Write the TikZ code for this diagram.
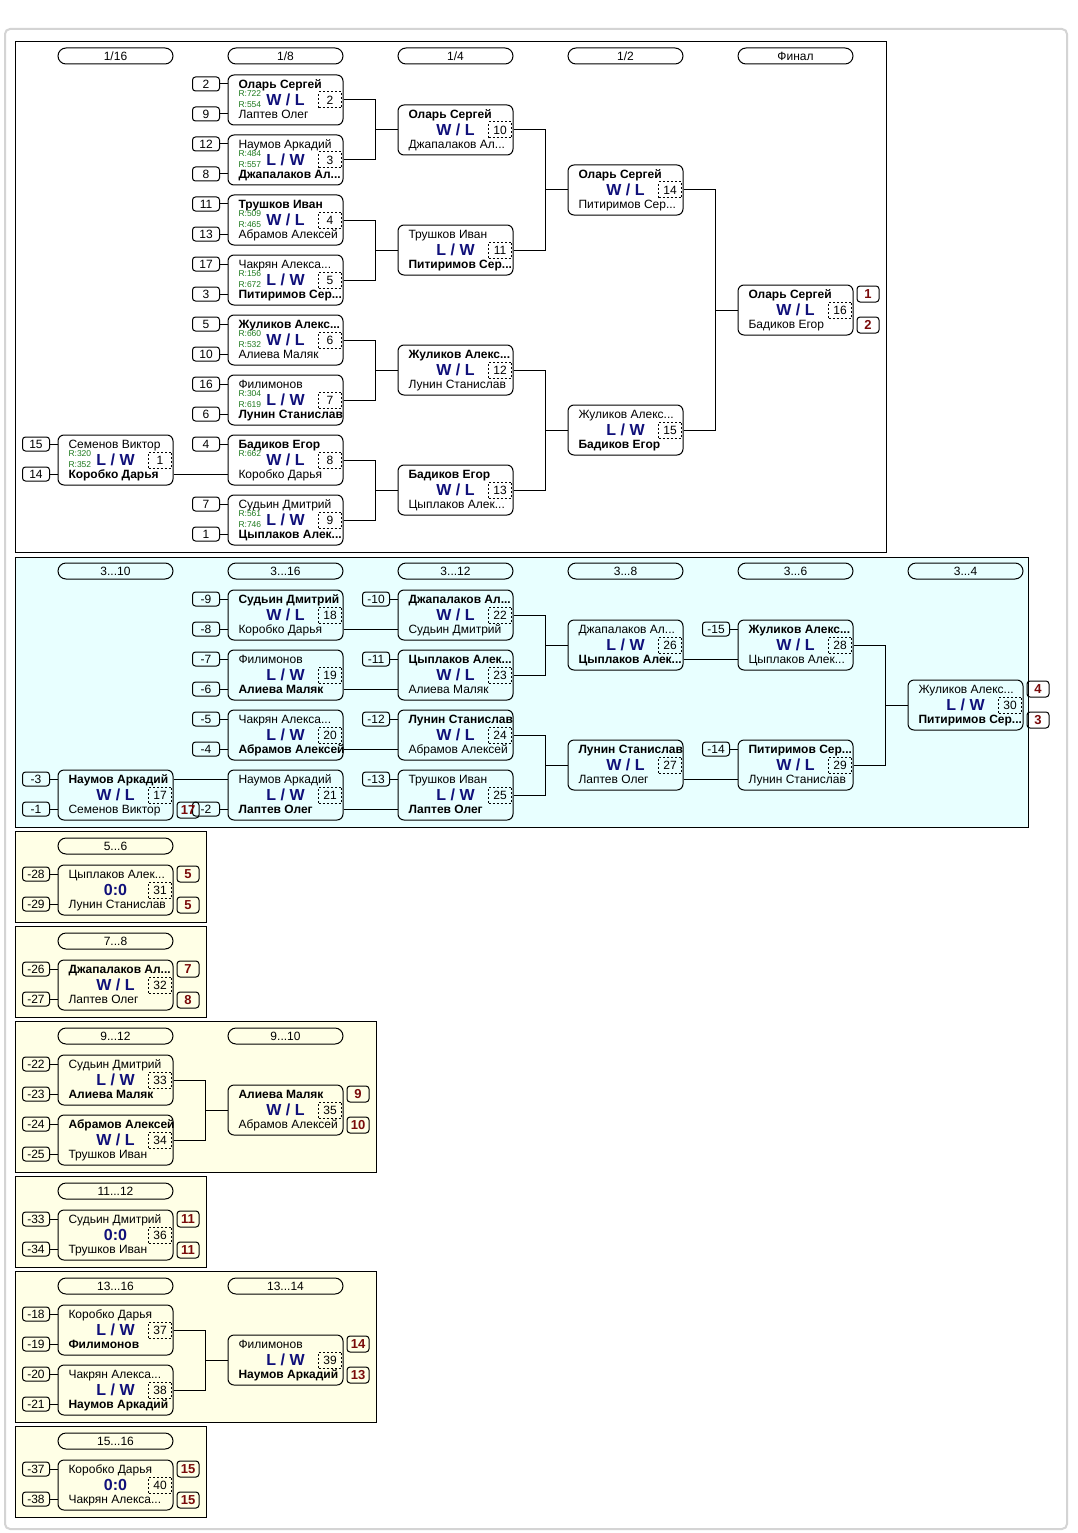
\documentclass[tikz,border=0pt]{standalone}
\usepackage{fontspec}
\setmainfont{Liberation Sans}
\usetikzlibrary{positioning, calc}

\definecolor{trostblau}{HTML}{E8FFFF}
\definecolor{platzgelb}{HTML}{FFFFE6}
\definecolor{wertblau}{HTML}{10107A}
\definecolor{platzrot}{HTML}{7A0A0A}
\definecolor{ratgruen}{HTML}{1E7A1E}
\definecolor{rahmengrau}{HTML}{D4D4D4}

\tikzset{
  spielbox/.style={draw, rounded corners=6pt, minimum width=115pt, minimum height=50pt, inner sep=0pt},
  spielname/.style={anchor=west, inner sep=0pt, text height=10.5pt, text depth=1.5pt, font=\fontsize{12}{14}\selectfont},
  wertung/.style={inner sep=0pt, text=wertblau, font=\bfseries\fontsize{16}{18}\selectfont},
  nummer/.style={draw, dash pattern=on 2pt off 2pt, anchor=east, minimum width=23pt, minimum height=16pt, inner sep=0pt, font=\fontsize{12}{12}\selectfont},
  setzbox/.style={draw, rounded corners=3pt, minimum width=27pt, minimum height=14pt, inner sep=0pt, font=\fontsize{12}{12}\selectfont},
  platzbox/.style={draw, rounded corners=3pt, minimum width=22pt, minimum height=16pt, inner sep=0pt, text=platzrot, font=\bfseries\fontsize{13}{13}\selectfont},
  kopf/.style={draw, rounded corners=8pt, minimum width=115pt, minimum height=16pt, inner sep=0pt, font=\fontsize{12}{12}\selectfont},
  ratingtext/.style={anchor=west, inner sep=0pt, text=ratgruen, font=\fontsize{8.5}{9}\selectfont},
}

% Spiel: Nummer, x, y, oben, Ergebnis, unten
\newcommand{\spiel}[6]{%
  \node[spielbox] (m#1) at (#2,#3) {};
  \node[spielname] (m#1o) at ({#2-47.5},{#3-16}) {#4};
  \node[spielname] (m#1u) at ({#2-47.5},{#3+14}) {#6};
  \node[wertung] (m#1w) at (#2,#3) {#5};
  \node[nummer] (m#1n) at ({#2+56.5},#3) {#1};
}
% Setzplaetze links
\newcommand{\setzo}[2]{\node[setzbox, left=18pt of m#1o.west] (s#1o) {#2}; \draw (s#1o) -- (s#1o -| m#1.west);}
\newcommand{\setzu}[2]{\node[setzbox, left=18pt of m#1u.west] (s#1u) {#2}; \draw (s#1u) -- (s#1u -| m#1.west);}
% Ratings
\newcommand{\rat}[3]{%
  \node[ratingtext] (r#1o) at ($(m#1o.west)+(0,10)$) {#2};
  \node[ratingtext] (r#1u) at ($(m#1u.west)+(0,-9)$) {#3};
}
% Endplaetze rechts
\newcommand{\platz}[3]{%
  \node[platzbox, anchor=west] (p#1o) at ($(m#1.east |- m#1o)+(3,0)$) {#2};
  \node[platzbox, anchor=west] (p#1u) at ($(m#1.east |- m#1u)+(3,1)$) {#3};
}

\begin{document}
\begin{tikzpicture}[x=1pt, y=-1pt, line width=1pt]

  \useasboundingbox (0,0) rectangle (1077,1533);
  \fill[white] (0,0) rectangle (1077,1533);

  % Rahmen und Abschnitte
  \draw[rahmengrau, line width=2pt, rounded corners=5pt] (5,29) rectangle (1067,1529);
  \draw[fill=white] (15.5,41.5) rectangle (886.5,552.5);
  \draw[fill=trostblau] (15.5,557.5) rectangle (1028.5,827.5);
  \draw[fill=platzgelb] (15.5,831.5) rectangle (206.5,922.5);
  \draw[fill=platzgelb] (15.5,926.5) rectangle (206.5,1017.5);
  \draw[fill=platzgelb] (15.5,1021.5) rectangle (376.5,1172.5);
  \draw[fill=platzgelb] (15.5,1176.5) rectangle (206.5,1267.5);
  \draw[fill=platzgelb] (15.5,1271.5) rectangle (376.5,1422.5);
  \draw[fill=platzgelb] (15.5,1426.5) rectangle (206.5,1517.5);

  % Rundenkoepfe
  \foreach \t [count=\i from 0] in {{1/16},{1/8},{1/4},{1/2},{Финал}}
    \node[kopf] (k\i) at ({115.5+170*\i},56) {\t};
  \node[kopf] (kt0) at (115.5,571) {3...10};
  \node[kopf] (kt1) at (285.5,571) {3...16};
  \node[kopf] (kt2) at (455.5,571) {3...12};
  \node[kopf] (kt3) at (625.5,571) {3...8};
  \node[kopf] (kt4) at (795.5,571) {3...6};
  \node[kopf] (kt5) at (965.5,571) {3...4};
  \node[kopf] (k56) at (115.5,846) {5...6};
  \node[kopf] (k78) at (115.5,941) {7...8};
  \node[kopf] (k912) at (115.5,1036) {9...12};
  \node[kopf] (k910) at (285.5,1036) {9...10};
  \node[kopf] (k1112) at (115.5,1191) {11...12};
  \node[kopf] (k1316) at (115.5,1286) {13...16};
  \node[kopf] (k1314) at (285.5,1286) {13...14};
  \node[kopf] (k1516) at (115.5,1441) {15...16};

  % Hauptrunde
  \spiel{1}{115.5}{460}{Семенов Виктор}{L / W}{\textbf{Коробко Дарья}}
  \spiel{2}{285.5}{100}{\textbf{Оларь Сергей}}{W / L}{Лаптев Олег}
  \spiel{3}{285.5}{160}{Наумов Аркадий}{L / W}{\textbf{Джапалаков Ал...}}
  \spiel{4}{285.5}{220}{\textbf{Трушков Иван}}{W / L}{Абрамов Алексей}
  \spiel{5}{285.5}{280}{Чакрян Алекса...}{L / W}{\textbf{Питиримов Сер...}}
  \spiel{6}{285.5}{340}{\textbf{Жуликов Алекс...}}{W / L}{Алиева Маляк}
  \spiel{7}{285.5}{400}{Филимонов}{L / W}{\textbf{Лунин Станислав}}
  \spiel{8}{285.5}{460}{\textbf{Бадиков Егор}}{W / L}{Коробко Дарья}
  \spiel{9}{285.5}{520}{Судьин Дмитрий}{L / W}{\textbf{Цыплаков Алек...}}
  \spiel{10}{455.5}{130}{\textbf{Оларь Сергей}}{W / L}{Джапалаков Ал...}
  \spiel{11}{455.5}{250}{Трушков Иван}{L / W}{\textbf{Питиримов Сер...}}
  \spiel{12}{455.5}{370}{\textbf{Жуликов Алекс...}}{W / L}{Лунин Станислав}
  \spiel{13}{455.5}{490}{\textbf{Бадиков Егор}}{W / L}{Цыплаков Алек...}
  \spiel{14}{625.5}{190}{\textbf{Оларь Сергей}}{W / L}{Питиримов Сер...}
  \spiel{15}{625.5}{430}{Жуликов Алекс...}{L / W}{\textbf{Бадиков Егор}}
  \spiel{16}{795.5}{310}{\textbf{Оларь Сергей}}{W / L}{Бадиков Егор}

  \rat{1}{R:320}{R:352}
  \rat{2}{R:722}{R:554}
  \rat{3}{R:484}{R:557}
  \rat{4}{R:509}{R:465}
  \rat{5}{R:156}{R:672}
  \rat{6}{R:660}{R:532}
  \rat{7}{R:304}{R:619}
  \node[ratingtext] (r8o) at ($(m8o.west)+(0,10)$) {R:662};
  \rat{9}{R:561}{R:746}

  \setzo{1}{15} \setzu{1}{14}
  \setzo{2}{2} \setzu{2}{9}
  \setzo{3}{12} \setzu{3}{8}
  \setzo{4}{11} \setzu{4}{13}
  \setzo{5}{17} \setzu{5}{3}
  \setzo{6}{5} \setzu{6}{10}
  \setzo{7}{16} \setzu{7}{6}
  \setzo{8}{4}
  \setzo{9}{7} \setzu{9}{1}

  \platz{16}{1}{2}

  % Verbindungen Hauptrunde
  \draw (m1.east |- m1u) -- (m8.west |- m1u);
  \foreach \a/\b/\z in {2/3/10, 4/5/11, 6/7/12, 8/9/13, 10/11/14, 12/13/15, 14/15/16} {
    \draw (m\a.east) -- ++(32,0) |- (m\z.west);
    \draw (m\b.east) -- ++(32,0) |- (m\z.west);
  }

  % Trostrunde
  \spiel{17}{115.5}{795}{\textbf{Наумов Аркадий}}{W / L}{Семенов Виктор}
  \spiel{18}{285.5}{615}{\textbf{Судьин Дмитрий}}{W / L}{Коробко Дарья}
  \spiel{19}{285.5}{675}{Филимонов}{L / W}{\textbf{Алиева Маляк}}
  \spiel{20}{285.5}{735}{Чакрян Алекса...}{L / W}{\textbf{Абрамов Алексей}}
  \spiel{21}{285.5}{795}{Наумов Аркадий}{L / W}{\textbf{Лаптев Олег}}
  \spiel{22}{455.5}{615}{\textbf{Джапалаков Ал...}}{W / L}{Судьин Дмитрий}
  \spiel{23}{455.5}{675}{\textbf{Цыплаков Алек...}}{W / L}{Алиева Маляк}
  \spiel{24}{455.5}{735}{\textbf{Лунин Станислав}}{W / L}{Абрамов Алексей}
  \spiel{25}{455.5}{795}{Трушков Иван}{L / W}{\textbf{Лаптев Олег}}
  \spiel{26}{625.5}{645}{Джапалаков Ал...}{L / W}{\textbf{Цыплаков Алек...}}
  \spiel{27}{625.5}{765}{\textbf{Лунин Станислав}}{W / L}{Лаптев Олег}
  \spiel{28}{795.5}{645}{\textbf{Жуликов Алекс...}}{W / L}{Цыплаков Алек...}
  \spiel{29}{795.5}{765}{\textbf{Питиримов Сер...}}{W / L}{Лунин Станислав}
  \spiel{30}{965.5}{705}{Жуликов Алекс...}{L / W}{\textbf{Питиримов Сер...}}

  \setzo{17}{-3} \setzu{17}{-1}
  \setzo{18}{-9} \setzu{18}{-8}
  \setzo{19}{-7} \setzu{19}{-6}
  \setzo{20}{-5} \setzu{20}{-4}
  \setzu{21}{-2}
  \setzo{22}{-10}
  \setzo{23}{-11}
  \setzo{24}{-12}
  \setzo{25}{-13}
  \setzo{28}{-15}
  \setzo{29}{-14}

  \node[platzbox, anchor=west] (p17u) at ($(m17.east |- m17u)+(3,1)$) {17};
  \platz{30}{4}{3}

  % Verbindungen Trostrunde
  \draw (m17.east |- m17o) -- (m21.west |- m17o);
  \foreach \a/\z in {18/22, 19/23, 20/24, 21/25, 26/28, 27/29}
    \draw (m\a.east |- m\a u) -- (m\z.west |- m\a u);
  \foreach \a/\b/\z in {22/23/26, 24/25/27, 28/29/30} {
    \draw (m\a.east) -- ++(32,0) |- (m\z.west);
    \draw (m\b.east) -- ++(32,0) |- (m\z.west);
  }

  % Platz 5-6
  \spiel{31}{115.5}{890}{Цыплаков Алек...}{0:0}{Лунин Станислав}
  \setzo{31}{-28} \setzu{31}{-29}
  \platz{31}{5}{5}

  % Platz 7-8
  \spiel{32}{115.5}{985}{\textbf{Джапалаков Ал...}}{W / L}{Лаптев Олег}
  \setzo{32}{-26} \setzu{32}{-27}
  \platz{32}{7}{8}

  % Platz 9-12
  \spiel{33}{115.5}{1080}{Судьин Дмитрий}{L / W}{\textbf{Алиева Маляк}}
  \spiel{34}{115.5}{1140}{\textbf{Абрамов Алексей}}{W / L}{Трушков Иван}
  \spiel{35}{285.5}{1110}{\textbf{Алиева Маляк}}{W / L}{Абрамов Алексей}
  \setzo{33}{-22} \setzu{33}{-23}
  \setzo{34}{-24} \setzu{34}{-25}
  \platz{35}{9}{10}
  \draw (m33.east) -- ++(32,0) |- (m35.west);
  \draw (m34.east) -- ++(32,0) |- (m35.west);

  % Platz 11-12
  \spiel{36}{115.5}{1235}{Судьин Дмитрий}{0:0}{Трушков Иван}
  \setzo{36}{-33} \setzu{36}{-34}
  \platz{36}{11}{11}

  % Platz 13-16
  \spiel{37}{115.5}{1330}{Коробко Дарья}{L / W}{\textbf{Филимонов}}
  \spiel{38}{115.5}{1390}{Чакрян Алекса...}{L / W}{\textbf{Наумов Аркадий}}
  \spiel{39}{285.5}{1360}{Филимонов}{L / W}{\textbf{Наумов Аркадий}}
  \setzo{37}{-18} \setzu{37}{-19}
  \setzo{38}{-20} \setzu{38}{-21}
  \platz{39}{14}{13}
  \draw (m37.east) -- ++(32,0) |- (m39.west);
  \draw (m38.east) -- ++(32,0) |- (m39.west);

  % Platz 15-16
  \spiel{40}{115.5}{1485}{Коробко Дарья}{0:0}{Чакрян Алекса...}
  \setzo{40}{-37} \setzu{40}{-38}
  \platz{40}{15}{15}

\end{tikzpicture}
\end{document}
